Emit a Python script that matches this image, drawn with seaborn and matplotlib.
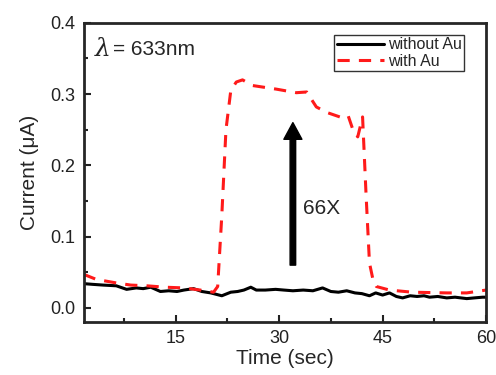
import numpy as np
import pandas as pd
import matplotlib
matplotlib.use("Agg")
import matplotlib.pyplot as plt
import seaborn as sns
from matplotlib.ticker import MultipleLocator

# black trace, without Au
t_without = [1.7, 3.0, 4.5, 6.4, 7.9, 9.3, 10.3, 11.4, 12.8, 14.0, 15.2, 16.2, 17.6,
             18.8, 20.1, 21.7, 23.0, 24.0, 24.9, 25.9, 26.7, 28.0, 29.5, 30.7, 32.0,
             33.5, 34.9, 36.3, 37.5, 38.6, 39.8, 41.0, 42.0, 43.1, 44.0, 45.0, 46.0,
             47.0, 47.9, 49.0, 50.0, 51.0, 51.8, 53.0, 54.3, 55.5, 57.2, 58.3, 59.5, 60.0]
i_without = [0.034, 0.033, 0.032, 0.031, 0.026, 0.028, 0.027, 0.029, 0.023, 0.024, 0.023, 0.025, 0.027,
             0.023, 0.021, 0.017, 0.022, 0.023, 0.025, 0.029, 0.025, 0.025, 0.026, 0.025, 0.024,
             0.025, 0.024, 0.028, 0.023, 0.022, 0.024, 0.021, 0.020, 0.017, 0.021, 0.018, 0.021,
             0.016, 0.014, 0.017, 0.016, 0.017, 0.015, 0.016, 0.014, 0.015, 0.013, 0.014, 0.015, 0.015]

# red dashed trace, with Au
t_with = [1.7, 3.5, 6.4, 8.5, 10.8, 13.5, 16.2, 18.6, 20.5, 21.1, 21.7, 22.3, 23.0,
          23.8, 24.7, 26.2, 29.6, 32.5, 34.0, 35.4, 37.0, 38.8, 40.0, 40.7, 41.4,
          42.1, 42.6, 43.1, 43.6, 44.1, 46.0, 49.3, 54.3, 57.2, 60.0]
i_with = [0.047, 0.040, 0.035, 0.032, 0.031, 0.029, 0.028, 0.025, 0.022, 0.030, 0.130, 0.250, 0.305,
          0.317, 0.320, 0.312, 0.307, 0.302, 0.303, 0.282, 0.274, 0.268, 0.270, 0.250, 0.240,
          0.268, 0.160, 0.063, 0.040, 0.030, 0.025, 0.022, 0.021, 0.021, 0.025]

df = pd.concat([
    pd.DataFrame({"t": t_without, "i": i_without, "s": "without Au"}),
    pd.DataFrame({"t": t_with, "i": i_with, "s": "with Au"}),
])

sns.set_style("ticks")
plt.rcParams['font.family'] = ['Liberation Sans', 'DejaVu Sans']

fig = plt.figure(figsize=(4.96, 3.75), dpi=100)
ax = fig.add_axes([0.169, 0.141, 0.811, 0.798])

sns.lineplot(data=df, x="t", y="i", hue="s", style="s",
             palette={"without Au": "black", "with Au": "#ff1a1a"},
             dashes={"without Au": "", "with Au": (4, 3)},
             linewidth=2.2, ax=ax, sort=False, estimator=None)

ax.set_xlim(1.7, 60)
ax.set_ylim(-0.02, 0.4)
ax.xaxis.set_major_locator(MultipleLocator(15))
ax.xaxis.set_minor_locator(MultipleLocator(7.5))
ax.yaxis.set_major_locator(MultipleLocator(0.1))
ax.yaxis.set_minor_locator(MultipleLocator(0.05))
ax.tick_params(which='both', direction='in', width=1.5, labelsize=13, colors='#222222', pad=6)
ax.tick_params(which='major', length=5)
ax.tick_params(which='minor', length=3)
for sp in ax.spines.values():
    sp.set_linewidth(2)
    sp.set_visible(True)

ax.set_xlabel("Time (sec)", fontsize=15, labelpad=1)
ax.set_ylabel("Current (\u03bcA)", fontsize=15, labelpad=8)

leg = ax.legend(loc='upper right', fontsize=11.5, frameon=True, fancybox=False,
                edgecolor='black', handlelength=3, borderpad=0.15, labelspacing=0.1,
                handletextpad=0.2, borderaxespad=0.0, bbox_to_anchor=(0.945, 0.96))
leg.get_frame().set_linewidth(1)

ax.text(3.3, 0.362, "\u03bb", fontsize=18, va='center', ha='left', fontstyle='italic',
        family='DejaVu Serif')
ax.text(5.9, 0.362, "= 633nm", fontsize=15, va='center', ha='left')
ax.annotate("", xy=(32, 0.26), xytext=(32, 0.06),
            arrowprops=dict(facecolor='black', edgecolor='black', width=4, headwidth=13, headlength=12))
ax.text(33.4, 0.14, "66X", fontsize=15, va='center', ha='left')

fig.savefig("out.png", dpi=100)
